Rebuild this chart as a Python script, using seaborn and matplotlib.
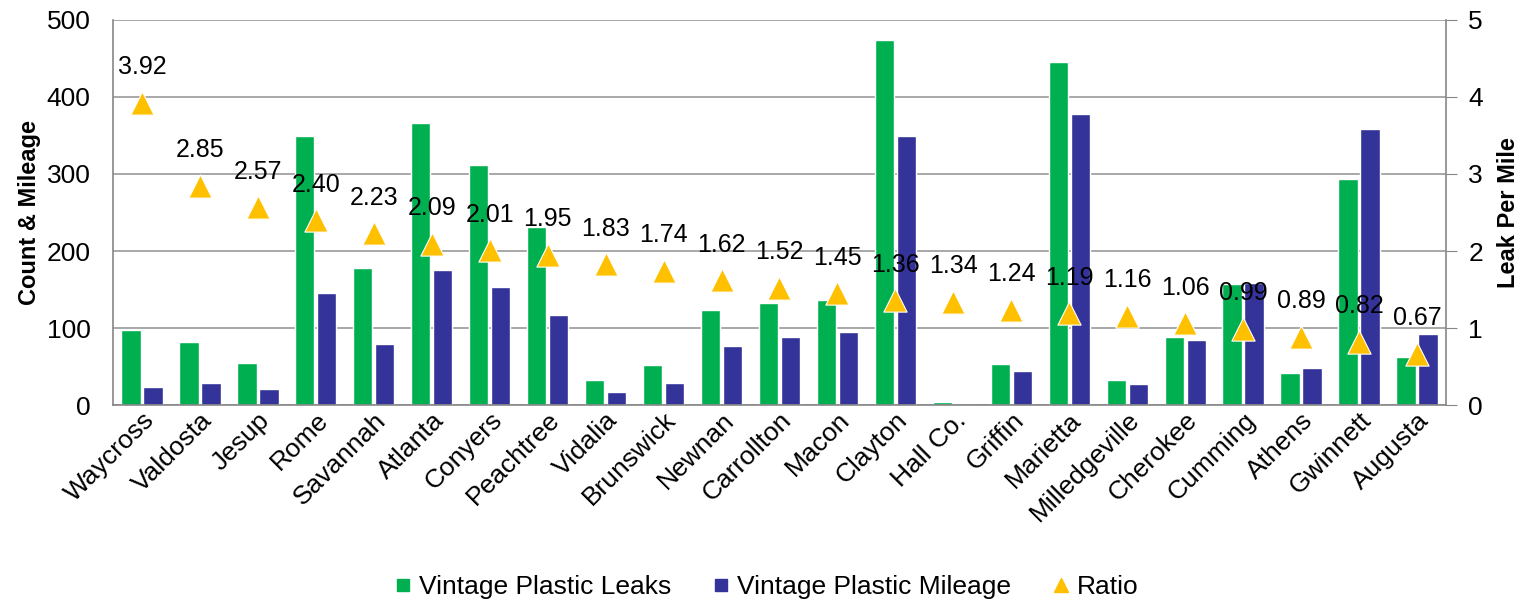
import seaborn as sns
import pandas as pd
import numpy as np
import matplotlib.pyplot as plt
from matplotlib.lines import Line2D

# values
cities = ['Waycross', 'Valdosta', 'Jesup', 'Rome', 'Savannah', 'Atlanta', 'Conyers',
          'Peachtree', 'Vidalia', 'Brunswick', 'Newnan', 'Carrollton', 'Macon', 'Clayton',
          'Hall Co.', 'Griffin', 'Marietta', 'Milledgeville', 'Cherokee', 'Cumming',
          'Athens', 'Gwinnett', 'Augusta']
leaks = [97, 82, 55, 349, 178, 366, 312, 231, 32, 52, 123, 133, 136, 474,
         4, 54, 445, 32, 88, 157, 42, 293, 62]
mileage = [24, 29, 21, 145, 79, 175, 153, 117, 17, 29, 77, 89, 95, 349,
           0, 44, 378, 27, 84, 158, 48, 358, 92]
ratio = [3.92, 2.85, 2.57, 2.40, 2.23, 2.09, 2.01, 1.95, 1.83, 1.74, 1.62, 1.52, 1.45,
         1.36, 1.34, 1.24, 1.19, 1.16, 1.06, 0.99, 0.89, 0.82, 0.67]

green = '#00B050'
blue = '#333399'
gold = '#FFC000'

dframe = pd.DataFrame({'city': cities, 'Vintage Plastic Leaks': leaks,
                       'Vintage Plastic Mileage': mileage})
dframe = pd.melt(dframe, id_vars=['city'], var_name='series', value_name='value')

sns.set_style('white')
plt.rcParams['font.family'] = ['Liberation Sans', 'DejaVu Sans']
plt.rcParams['text.color'] = 'black'
plt.rcParams['axes.labelcolor'] = 'black'
plt.rcParams['xtick.labelcolor'] = 'black'
plt.rcParams['ytick.labelcolor'] = 'black'

fig = plt.figure(figsize=(15.26, 6.02), dpi=100)
ax = fig.add_axes([0.074, 0.327, 0.8736, 0.64])

sns.barplot(data=dframe, x='city', y='value', hue='series', order=cities,
            palette=[green, blue], width=0.76, gap=0.12, ax=ax, legend=False,
            saturation=1)
ax.set_ylim(0, 500)
ax.set_xlim(-0.5, len(cities) - 0.5)
ax.set_yticks(np.arange(0, 501, 100))
ax.yaxis.grid(True, color='#9A9A9A', linewidth=1.2)
ax.set_axisbelow(True)
ax.set_xlabel('')
ax.set_ylabel('Count & Mileage', fontsize=17, fontweight='bold', labelpad=4)
ax.tick_params(axis='y', labelsize=19, length=0, pad=16, labelcolor='black')
ax.tick_params(axis='x', labelsize=19, length=0, pad=2, labelcolor='black')
plt.setp(ax.get_xticklabels(), rotation=45, ha='right', rotation_mode='anchor')
for s in ['left', 'bottom', 'right']:
    ax.spines[s].set_color('#868686')
    ax.spines[s].set_linewidth(1.2)
ax.spines['top'].set_visible(False)

ax2 = ax.twinx()
xs = np.arange(len(cities))
ax2.scatter(xs, ratio, marker='^', s=280, color=gold, zorder=5,
            edgecolors='white', linewidths=0.8)
for x, r in zip(xs, ratio):
    ax2.annotate(f'{r:.2f}', (x, r), xytext=(0, 17), textcoords='offset points',
                 ha='center', va='bottom', fontsize=18, color='black')
ax2.set_ylim(0, 5)
ax2.set_yticks(range(0, 6))
ax2.set_ylabel('Leak Per Mile', fontsize=17, fontweight='bold', labelpad=10, color='black')
ax2.tick_params(axis='y', labelsize=19, length=8, color='#868686', pad=8,
                direction='out', labelcolor='black')
for s in ['left', 'bottom', 'right', 'top']:
    ax2.spines[s].set_visible(False)

handles = [Line2D([], [], marker='s', linestyle='', color=green, markersize=9),
           Line2D([], [], marker='s', linestyle='', color=blue, markersize=9),
           Line2D([], [], marker='^', linestyle='', color=gold, markersize=10)]
fig.legend(handles, ['Vintage Plastic Leaks', 'Vintage Plastic Mileage', 'Ratio'],
           loc='lower center', bbox_to_anchor=(0.5, -0.035), ncol=3, frameon=False,
           fontsize=19, handletextpad=0.0, handlelength=1.2, columnspacing=1.3)

fig.savefig('out.png', dpi=100)
